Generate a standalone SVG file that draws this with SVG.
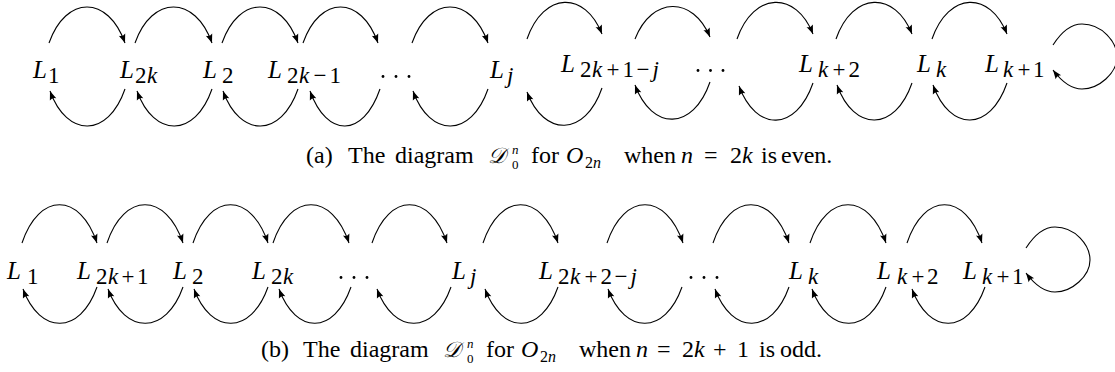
<svg xmlns="http://www.w3.org/2000/svg" width="1115" height="372" viewBox="0 0 1115 372">
<style>
.c{fill:none;stroke:#000;stroke-width:1.1;marker-end:url(#ah)}
.dot{fill:#000}
</style>
<defs>
<marker id="ah" viewBox="-10 -5 12 10" refX="0" refY="0" markerWidth="12" markerHeight="10" markerUnits="userSpaceOnUse" orient="auto">
<path d="M0,0 L-9,-3.4 Q-6.5,0 -9,3.4 Z" fill="#000"/>
</marker>
</defs>
<rect width="1115" height="372" fill="#fff"/>
<g id="connectors">
<path class="c" d="M49 43 C66 -5 108 -5 125 43"/>
<path class="c" d="M135 43 C152 -5 195 -5 212 43"/>
<path class="c" d="M222 43 C239 -5 281 -5 298 43"/>
<path class="c" d="M303 43 C320 -5 361 -5 378 43"/>
<path class="c" d="M412 43 C429 -5 471 -5 488 43"/>
<path class="c" d="M527 39 C544 -9 585 -9 602 34"/>
<path class="c" d="M635 39 C652 -4 693 -4 710 37"/>
<path class="c" d="M737 39 C754 -9 796 -9 813 34"/>
<path class="c" d="M836 39 C853 -9 895 -9 912 34"/>
<path class="c" d="M932 39 C949 -9 990 -9 1007 34"/>
<path class="c" d="M125 89 C108 138 67 138 50 91"/>
<path class="c" d="M212 89 C195 138 154 138 137 91"/>
<path class="c" d="M298 89 C281 138 240 138 223 91"/>
<path class="c" d="M380 89 C363 138 327 138 310 91"/>
<path class="c" d="M488 89 C471 138 430 138 413 91"/>
<path class="c" d="M602 88 C585 137 544 137 527 92"/>
<path class="c" d="M710 82 C693 131 652 131 635 85"/>
<path class="c" d="M813 83 C796 132 756 132 739 86"/>
<path class="c" d="M912 83 C895 132 854 132 837 85"/>
<path class="c" d="M1007 83 C990 132 950 132 933 85"/>
<path class="c" d="M1053 45 C1062 31 1072 24 1082 24 C1102 24 1117 42 1117 57 C1117 73 1099 89 1082 89 C1072 89 1062 82 1053 70"/>
<path class="c" d="M22 243 C39 192 80 192 97 243"/>
<path class="c" d="M107 243 C124 192 166 192 183 243"/>
<path class="c" d="M193 243 C210 192 251 192 268 243"/>
<path class="c" d="M273 243 C290 192 332 192 349 243"/>
<path class="c" d="M372 243 C389 192 430 192 447 243"/>
<path class="c" d="M483 243 C500 192 541 192 558 243"/>
<path class="c" d="M607 243 C624 192 666 192 683 243"/>
<path class="c" d="M713 243 C730 192 772 192 789 243"/>
<path class="c" d="M810 243 C827 192 869 192 886 243"/>
<path class="c" d="M907 243 C924 192 965 192 982 243"/>
<path class="c" d="M97 287 C80 335 40 335 23 289"/>
<path class="c" d="M183 287 C166 335 125 335 108 289"/>
<path class="c" d="M268 287 C251 335 211 335 194 289"/>
<path class="c" d="M351 287 C334 335 296 335 279 289"/>
<path class="c" d="M451 287 C434 335 394 335 377 289"/>
<path class="c" d="M558 287 C541 335 502 335 485 289"/>
<path class="c" d="M682 287 C665 335 625 335 608 289"/>
<path class="c" d="M789 287 C772 335 732 335 715 289"/>
<path class="c" d="M886 287 C869 335 829 335 812 289"/>
<path class="c" d="M985 287 C968 335 929 335 912 289"/>
<path class="c" d="M1026 248 C1035 234 1045 227 1055 227 C1075 227 1090 245 1090 260 C1090 276 1072 292 1055 292 C1045 292 1035 285 1026 273"/>
</g>
<g font-family="'Liberation Serif', 'Times New Roman', serif" font-size="23" fill="#000">
<g id="a-L1"><text><tspan font-style="italic" font-size="25" x="33" y="78">L</tspan><tspan x="48" y="83">1</tspan></text></g>
<g id="a-L2k"><text><tspan font-style="italic" font-size="25" x="120" y="78">L</tspan><tspan x="135" y="83">2</tspan><tspan font-style="italic" x="147" y="83">k</tspan></text></g>
<g id="a-L2"><text><tspan font-style="italic" font-size="25" x="203" y="78">L</tspan><tspan x="222" y="83">2</tspan></text></g>
<g id="a-L2k-1"><text><tspan font-style="italic" font-size="25" x="268" y="78">L</tspan><tspan x="287" y="83">2</tspan><tspan font-style="italic" x="299" y="83">k</tspan><tspan x="313.5" y="83">−</tspan><tspan x="329.5" y="83">1</tspan></text></g>
<g id="a-dots1"><circle class="dot" cx="383" cy="76.5" r="1.4"/><circle class="dot" cx="396" cy="76.5" r="1.4"/><circle class="dot" cx="409" cy="76.5" r="1.4"/></g>
<g id="a-Lj"><text><tspan font-style="italic" font-size="25" x="490" y="78">L</tspan><tspan font-style="italic" x="507" y="83">j</tspan></text></g>
<g id="a-L2k+1-j"><text><tspan font-style="italic" font-size="25" x="561" y="72">L</tspan><tspan x="580" y="77">2</tspan><tspan font-style="italic" x="592" y="77">k</tspan><tspan x="606.5" y="77">+</tspan><tspan x="622.5" y="77">1</tspan><tspan x="636.5" y="77">−</tspan><tspan font-style="italic" x="652.5" y="77">j</tspan></text></g>
<g id="a-dots2"><circle class="dot" cx="698" cy="70.5" r="1.4"/><circle class="dot" cx="710.5" cy="70.5" r="1.4"/><circle class="dot" cx="723" cy="70.5" r="1.4"/></g>
<g id="a-Lk+2"><text><tspan font-style="italic" font-size="25" x="799" y="72">L</tspan><tspan font-style="italic" x="818" y="77">k</tspan><tspan x="832.5" y="77">+</tspan><tspan x="848.5" y="77">2</tspan></text></g>
<g id="a-Lk"><text><tspan font-style="italic" font-size="25" x="917" y="72">L</tspan><tspan font-style="italic" x="936" y="77">k</tspan></text></g>
<g id="a-Lk+1"><text><tspan font-style="italic" font-size="25" x="985" y="72">L</tspan><tspan font-style="italic" x="1003" y="77">k</tspan><tspan x="1017.5" y="77">+</tspan><tspan x="1033" y="77">1</tspan></text></g>
<g id="b-L1"><text><tspan font-style="italic" font-size="25" x="7" y="279">L</tspan><tspan x="27" y="284">1</tspan></text></g>
<g id="b-L2k+1"><text><tspan font-style="italic" font-size="25" x="77" y="279">L</tspan><tspan x="96" y="284">2</tspan><tspan font-style="italic" x="108" y="284">k</tspan><tspan x="121.5" y="284">+</tspan><tspan x="137" y="284">1</tspan></text></g>
<g id="b-L2"><text><tspan font-style="italic" font-size="25" x="173" y="279">L</tspan><tspan x="192" y="284">2</tspan></text></g>
<g id="b-L2k"><text><tspan font-style="italic" font-size="25" x="252" y="279">L</tspan><tspan x="271" y="284">2</tspan><tspan font-style="italic" x="283" y="284">k</tspan></text></g>
<g id="b-dots1"><circle class="dot" cx="341" cy="277.5" r="1.4"/><circle class="dot" cx="354" cy="277.5" r="1.4"/><circle class="dot" cx="367" cy="277.5" r="1.4"/></g>
<g id="b-Lj"><text><tspan font-style="italic" font-size="25" x="452" y="279">L</tspan><tspan font-style="italic" x="470" y="284">j</tspan></text></g>
<g id="b-L2k+2-j"><text><tspan font-style="italic" font-size="25" x="539" y="279">L</tspan><tspan x="558" y="284">2</tspan><tspan font-style="italic" x="570" y="284">k</tspan><tspan x="584.5" y="284">+</tspan><tspan x="600.5" y="284">2</tspan><tspan x="614.5" y="284">−</tspan><tspan font-style="italic" x="630.5" y="284">j</tspan></text></g>
<g id="b-dots2"><circle class="dot" cx="691" cy="277.5" r="1.4"/><circle class="dot" cx="704" cy="277.5" r="1.4"/><circle class="dot" cx="717" cy="277.5" r="1.4"/></g>
<g id="b-Lk"><text><tspan font-style="italic" font-size="25" x="789" y="279">L</tspan><tspan font-style="italic" x="808" y="284">k</tspan></text></g>
<g id="b-Lk+2"><text><tspan font-style="italic" font-size="25" x="877" y="279">L</tspan><tspan font-style="italic" x="897" y="284">k</tspan><tspan x="911.5" y="284">+</tspan><tspan x="927" y="284">2</tspan></text></g>
<g id="b-Lk+1"><text><tspan font-style="italic" font-size="25" x="963" y="279">L</tspan><tspan font-style="italic" x="982" y="284">k</tspan><tspan x="996.5" y="284">+</tspan><tspan x="1012" y="284">1</tspan></text></g>
</g>
<g font-family="'Liberation Serif', 'Times New Roman', serif" font-size="24" fill="#000">
<g id="caption-a"><text><tspan x="306" y="163">(a)</tspan><tspan x="348" y="163">The</tspan><tspan x="395" y="163">diagram</tspan><tspan font-style="italic" font-size="22" x="488" y="163">𝒟</tspan><tspan font-size="13" font-style="italic" x="512" y="154">n</tspan><tspan font-size="13" x="512" y="169">0</tspan><tspan x="531" y="163">for</tspan><tspan font-style="italic" x="566" y="163">O</tspan><tspan font-size="16" x="585" y="168">2</tspan><tspan font-size="16" font-style="italic" x="593" y="168">n</tspan><tspan x="624" y="163">when</tspan><tspan font-style="italic" x="681" y="163">n</tspan><tspan x="704" y="163">=</tspan><tspan x="730" y="163">2</tspan><tspan font-style="italic" x="742" y="163">k</tspan><tspan x="761" y="163">is</tspan><tspan x="781" y="163">even.</tspan></text></g>
<g id="caption-b"><text><tspan x="261" y="357">(b)</tspan><tspan x="303" y="357">The</tspan><tspan x="350" y="357">diagram</tspan><tspan font-style="italic" font-size="22" x="443" y="357">𝒟</tspan><tspan font-size="13" font-style="italic" x="467" y="348">n</tspan><tspan font-size="13" x="467" y="363">0</tspan><tspan x="486" y="357">for</tspan><tspan font-style="italic" x="521" y="357">O</tspan><tspan font-size="16" x="540" y="362">2</tspan><tspan font-size="16" font-style="italic" x="548" y="362">n</tspan><tspan x="579" y="357">when</tspan><tspan font-style="italic" x="636" y="357">n</tspan><tspan x="657" y="357">=</tspan><tspan x="682" y="357">2</tspan><tspan font-style="italic" x="694" y="357">k</tspan><tspan x="713" y="357">+</tspan><tspan x="737" y="357">1</tspan><tspan x="759" y="357">is</tspan><tspan x="780" y="357">odd.</tspan></text></g>
</g>
</svg>
